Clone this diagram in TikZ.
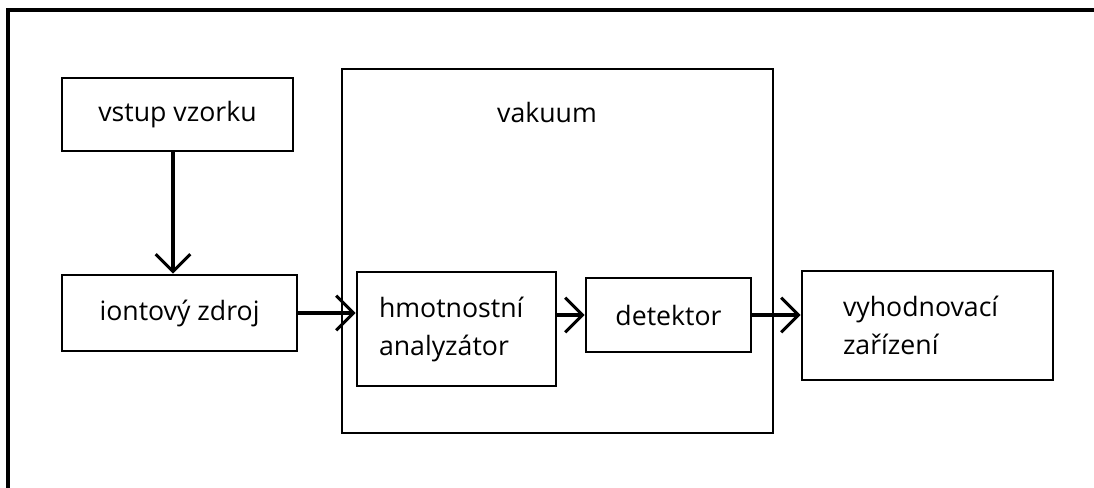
\documentclass[tikz,border=0pt]{standalone}
\usepackage{fontspec}
\setmainfont{Open Sans}
\usetikzlibrary{arrows.meta}
\begin{document}
\begin{tikzpicture}[x=0.75pt,y=-0.75pt,
  box/.style={draw=black, line width=2.1pt, rectangle, inner sep=0pt, font=\fontsize{20}{28.5}\selectfont},
  conn/.style={line width=2.3pt, -{Straight Barb[length=13pt,width=26pt,line width=2.3pt]}},
  frameline/.style={line width=2.3pt},
  lbl/.style={font=\fontsize{20}{28.5}\selectfont, inner sep=0pt}
]
\useasboundingbox (0,0) rectangle (1094,488);
\coordinate (ftr) at (1094,10);
\coordinate (ftl) at (8,10);
\coordinate (fbl) at (8,488);
\draw[frameline] (ftr) -- (ftl) -- (fbl);

\node[box, minimum width=173.25pt, minimum height=54.75pt] (vstup) at (177.5,114.5) {vstup vzorku};
\node[box, minimum width=176.25pt, minimum height=57pt] (ion) at (179.5,313) {iontový zdroj};
\node[box, minimum width=323.25pt, minimum height=273pt] (vak) at (557.5,251) {};
\node[lbl] (vaklbl) at (547,113) {vakuum};
\node[box, minimum width=149.25pt, minimum height=85.5pt, text width=116.25pt, inner xsep=16.5pt, align=left] (hma) at (456.5,329) {hmotnostní\\analyzátor};
\node[box, minimum width=123.75pt, minimum height=55.5pt] (det) at (668.5,315) {detektor};
\node[box, minimum width=188.25pt, minimum height=81.75pt, text width=126.75pt, inner xsep=30.75pt, align=left] (vyh) at (927.5,325.5) {vyhodnovací\\zařízení};

\coordinate (vtop) at (173,151);
\draw[conn] (vtop) -- (vtop |- ion.north);
\draw[conn] (ion.east) -- (ion.east -| hma.west);
\draw[conn] (hma.east |- det.west) -- (det.west);
\draw[conn] (det.east) -- (det.east -| vyh.west);
\end{tikzpicture}
\end{document}
